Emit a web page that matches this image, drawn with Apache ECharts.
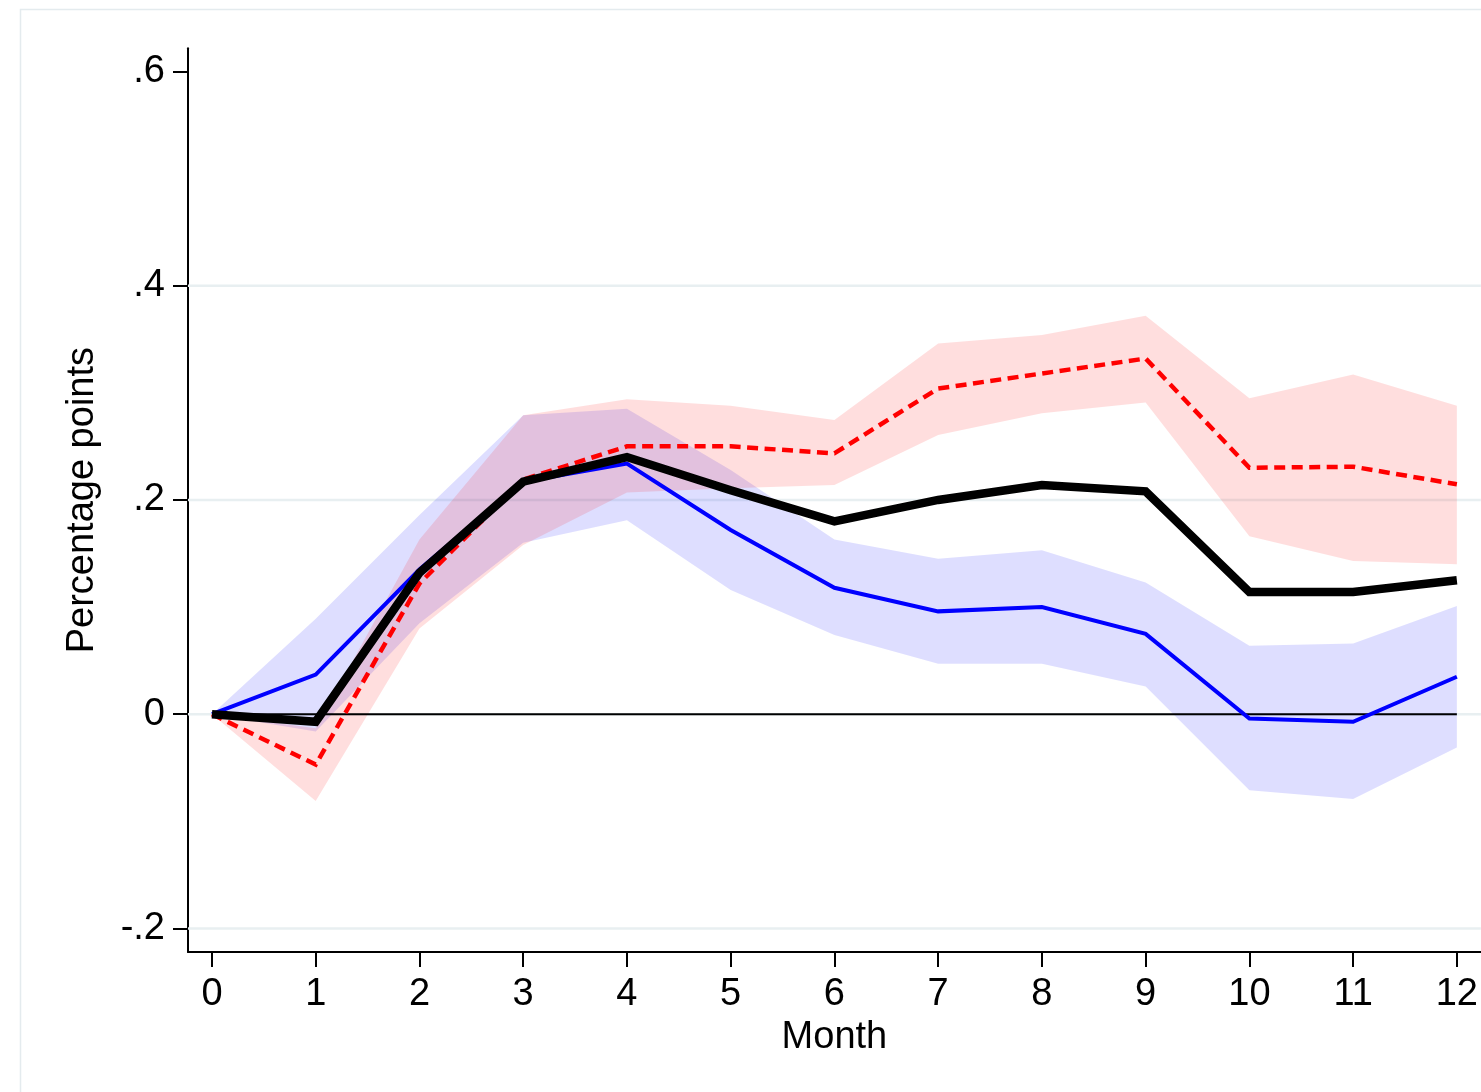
<!DOCTYPE html>
<html>
<head>
<meta charset="utf-8">
<script src="https://cdn.jsdelivr.net/npm/echarts@6/dist/echarts.min.js"></script>
<style>
html,body{margin:0;padding:0;background:#fff;}
#chart{width:1481px;height:1092px;}
</style>
</head>
<body>
<div id="chart"></div>
<script>
// ---- data ----
var months = [0,1,2,3,4,5,6,7,8,9,10,11,12];
var pooled = [0,-0.007,0.132,0.217,0.240,0.209,0.180,0.200,0.214,0.208,0.114,0.114,0.125];
var blueEst = [0,0.037,0.135,0.217,0.234,0.172,0.118,0.096,0.100,0.075,-0.004,-0.007,0.035];
var blueLo = [0,-0.016,0.085,0.160,0.181,0.116,0.074,0.047,0.047,0.026,-0.071,-0.079,-0.031];
var blueHi = [0,0.089,0.186,0.279,0.285,0.228,0.163,0.145,0.153,0.123,0.064,0.066,0.101];
var redEst = [0,-0.047,0.122,0.219,0.250,0.250,0.2435,0.304,0.318,0.332,0.230,0.231,0.2146];
var redLo = [0,-0.081,0.080,0.158,0.207,0.211,0.214,0.2605,0.281,0.291,0.166,0.143,0.140];
var redHi = [0,-0.013,0.163,0.279,0.294,0.288,0.2745,0.346,0.354,0.372,0.295,0.317,0.288];
var yTicks = [-0.2,0,0.2,0.4,0.6];
var gridVals = [-0.2,0,0.2,0.4];
var zeroRef = 0;

var FONT = '"Liberation Sans", Arial, Helvetica, sans-serif';

function pairs(ys){ return months.map(function(m,i){ return [m, ys[i]]; }); }
function bandData(lo,hi){ return months.map(function(m,i){ return [m, lo[i], hi[i]]; }); }

function bandRender(lo, hi, color){
  return function(params, api){
    if (params.dataIndex !== 0) return null;
    var pts = [];
    for (var i=0;i<months.length;i++) pts.push(api.coord([months[i], hi[i]]));
    for (var j=months.length-1;j>=0;j--) pts.push(api.coord([months[j], lo[j]]));
    return { type:'polygon', shape:{points:pts}, style:{fill:color, stroke:null} };
  };
}

var chart = echarts.init(document.getElementById('chart'), null, {renderer:'canvas'});
var option = {
  animation:false,
  backgroundColor:'#ffffff',
  graphic:[{
    type:'rect', z:-10, silent:true,
    shape:{x:20.5, y:9.5, width:1500, height:1120},
    style:{fill:'none', stroke:'#e4ebee', lineWidth:1.5}
  }],
  grid:{left:188, top:48.3, width:1294, height:903.7, containLabel:false},
  xAxis:{
    type:'value', min:-0.231, max:12.231,
    name:'Month', nameLocation:'middle', nameGap:64,
    nameTextStyle:{fontFamily:FONT, fontSize:38, color:'#000'},
    axisLine:{show:true, onZero:false, lineStyle:{color:'#000', width:2}},
    axisTick:{show:true, length:15, lineStyle:{color:'#000', width:2}, customValues:months},
    axisLabel:{show:true, margin:24, fontFamily:FONT, fontSize:38, color:'#000', customValues:months,
      formatter:function(v){ return String(v); }},
    splitLine:{show:false}
  },
  yAxis:{
    type:'value', min:-0.2219, max:0.6215,
    name:'Percentage points', nameLocation:'middle', nameGap:86,
    nameTextStyle:{fontFamily:FONT, fontSize:38, color:'#000'},
    axisLine:{show:true, onZero:false, lineStyle:{color:'#000', width:2}},
    axisTick:{show:true, length:15, lineStyle:{color:'#000', width:2}, customValues:yTicks},
    axisLabel:{show:true, margin:23, fontFamily:FONT, fontSize:38, color:'#000', customValues:yTicks,
      formatter:function(v){
        if (Math.abs(v) < 1e-9) return '0';
        var s = String(Math.round(Math.abs(v)*10)/10).replace(/^0/,'');
        return (v<0?'-':'') + s;
      }},
    splitLine:{show:false}
  },
  series:[
    {
      type:'custom', name:'grid', z:1, silent:true,
      data:gridVals.map(function(v){ return [0, v]; }),
      encode:{x:0, y:1},
      renderItem:function(params, api){
        var cs = params.coordSys;
        var y = api.coord([0, api.value(1)])[1];
        return { type:'line', shape:{x1:cs.x, y1:y, x2:cs.x+cs.width, y2:y},
                 style:{stroke:'#e8eff1', lineWidth:2.5} };
      }
    },
    {
      type:'custom', name:'blueCI', z:2, silent:true,
      data:bandData(blueLo, blueHi), encode:{x:0, y:[1,2]},
      renderItem:bandRender(blueLo, blueHi, 'rgba(0,0,255,0.13)')
    },
    {
      type:'custom', name:'redCI', z:3, silent:true,
      data:bandData(redLo, redHi), encode:{x:0, y:[1,2]},
      renderItem:bandRender(redLo, redHi, 'rgba(255,0,0,0.13)')
    },
    {
      type:'line', name:'zero', z:4, silent:true, symbol:'none',
      data:[[months[0], zeroRef],[months[months.length-1], zeroRef]],
      lineStyle:{color:'#000', width:2.2}
    },
    {
      type:'line', name:'red', z:5, symbol:'none', data:pairs(redEst),
      lineStyle:{color:'#ff0000', width:4.5, type:[11,6.5], cap:'butt', join:'miter'}
    },
    {
      type:'line', name:'blue', z:6, symbol:'none', data:pairs(blueEst),
      lineStyle:{color:'#0000ff', width:4, join:'miter'}
    },
    {
      type:'line', name:'pooled', z:7, symbol:'none', data:pairs(pooled),
      lineStyle:{color:'#000000', width:8.5, join:'miter'}
    }
  ]
};
chart.setOption(option);
</script>
</body>
</html>
